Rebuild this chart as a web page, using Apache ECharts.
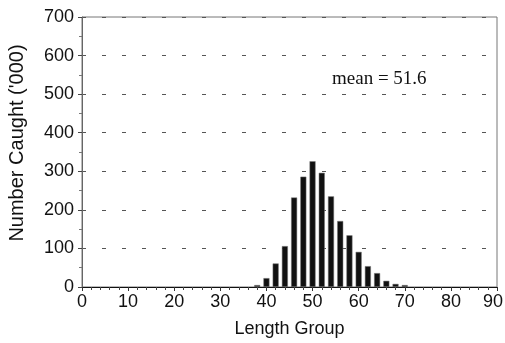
<!DOCTYPE html>
<html>
<head>
<meta charset="utf-8">
<script src="https://cdn.jsdelivr.net/npm/echarts@6/dist/echarts.min.js"></script>
<style>html,body{margin:0;padding:0;background:#fff;}#c{width:505px;height:343px;}</style>
</head>
<body>
<div id="c"></div>
<script>
const lengthGroups = [38, 40, 42, 44, 46, 48, 50, 52, 54, 56, 58, 60, 62, 64, 66, 68, 70];
const numberCaught = [5, 23, 61, 106, 232, 286, 326, 296, 235, 171, 134, 91, 54, 36, 16, 8, 5];
const xTicks = [0, 10, 20, 30, 40, 50, 60, 70, 80, 90];
const yTicks = [0, 100, 200, 300, 400, 500, 600, 700];
const annotation = 'mean = 51.6';

const chart = echarts.init(document.getElementById('c'), null, {renderer: 'canvas'});
const font = '"Liberation Sans", Arial, sans-serif';
const xMax = xTicks[xTicks.length - 1];
chart.setOption({
  animation: false,
  grid: {left: 82, right: 8, top: 17, bottom: 56, show: true, borderColor: '#777', borderWidth: 1,
         containLabel: false, outerBoundsMode: 'none'},
  xAxis: {
    type: 'value', min: xTicks[0], max: xMax, interval: 10,
    name: 'Length Group', nameLocation: 'middle', nameGap: 33,
    nameTextStyle: {fontFamily: font, fontSize: 18, color: '#111'},
    axisLine: {show: true, lineStyle: {color: '#111', width: 1}},
    axisTick: {show: true, length: 4, lineStyle: {color: '#333'}},
    minorTick: {show: true, splitNumber: 5, length: 3, lineStyle: {color: '#444'}},
    axisLabel: {
      fontFamily: font, fontSize: 18, color: '#111', margin: 6,
      formatter: v => v === xMax ? '{e|' + v + '}' : String(v),
      rich: {e: {fontFamily: font, fontSize: 18, color: '#111', padding: [0, 8, 0, 0]}}
    },
    splitLine: {show: false}
  },
  yAxis: {
    type: 'value', min: yTicks[0], max: yTicks[yTicks.length - 1], interval: 100,
    name: "Number Caught ('000)", nameLocation: 'middle', nameGap: 55,
    nameTextStyle: {fontFamily: font, fontSize: 20, color: '#111', padding: [0, 0, 0, 18]},
    axisLine: {show: true, lineStyle: {color: '#666', width: 1}},
    axisTick: {show: true, length: 4, lineStyle: {color: '#444'}},
    minorTick: {show: true, splitNumber: 2, length: 3, lineStyle: {color: '#777'}},
    axisLabel: {fontFamily: font, fontSize: 18, color: '#111', margin: 8},
    splitLine: {show: true, lineStyle: {color: '#555', type: [4, 16], width: 1}}
  },
  series: [{
    type: 'bar',
    data: lengthGroups.map((g, i) => [g, numberCaught[i]]),
    barWidth: 6,
    itemStyle: {color: '#111', borderColor: '#777', borderWidth: 0.5}
  }],
  graphic: [{
    type: 'text', left: 332, top: 70,
    style: {text: annotation, font: '19px "Liberation Serif", "Times New Roman", serif', fill: '#111'}
  }]
});
</script>
</body>
</html>
